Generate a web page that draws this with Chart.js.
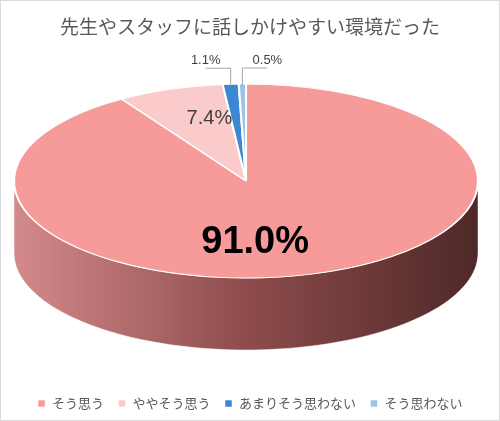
<!DOCTYPE html><html><head><meta charset="utf-8">
<script src="https://cdn.jsdelivr.net/npm/chart.js@4"></script>
<style>html,body{margin:0;padding:0;background:#fff}#w{width:498px;height:419px;border:1px solid #d9d9d9}</style>
</head><body><div id="w"><canvas id="c" width="498" height="419"></canvas></div>
<script>
const categories=['そう思う','ややそう思う','あまりそう思わない','そう思わない'];
const values=[91.0,7.4,1.1,0.5];
const colors=['#f79a9a','#fbcaca','#3b87d2','#9dc3e6'];
const chartTitle='先生やスタッフに話しかけやすい環境だった';
const E={x:245,y:180,rx:232,ry:97,d:72};
let ctxSaved=false;
const pie3d={id:'pie3d',
 beforeDatasetsDraw(ch){const c=ch.ctx;const arcs=ch.getDatasetMeta(0).data;if(!arcs.length)return;
  const a0=arcs[0];const cx=a0.x,cy=a0.y,r=a0.outerRadius;
  // side wall
  arcs.forEach((a,i)=>{let s=Math.max(a.startAngle,0),e=Math.min(a.endAngle,Math.PI);
   const ranges=[[s,e]];
   // handle wraps beyond 2π
   let s2=Math.max(a.startAngle,2*Math.PI),e2=Math.min(a.endAngle,3*Math.PI);ranges.push([s2,e2]);
   ranges.forEach(([p,q])=>{if(q<=p)return;
    const g=c.createLinearGradient(E.x-E.rx,0,E.x+E.rx,0);
    g.addColorStop(0,i==0?'#d48a8a':'#ccc');g.addColorStop(0.5,i==0?'#8e4c4c':'#999');g.addColorStop(1,i==0?'#4e2828':'#555');
    c.beginPath();const N=80;
    for(let k=0;k<=N;k++){const t=p+(q-p)*k/N;const X=E.x+E.rx*Math.cos(t),Y=E.y+E.ry*Math.sin(t);k?c.lineTo(X,Y):c.moveTo(X,Y);}
    for(let k=N;k>=0;k--){const t=p+(q-p)*k/N;c.lineTo(E.x+E.rx*Math.cos(t),E.y+E.ry*Math.sin(t)+E.d);}
    c.closePath();c.fillStyle=g;c.fill();c.strokeStyle='rgba(255,255,255,0.5)';c.lineWidth=1;c.stroke();});
  });
  c.save();c.translate(E.x,E.y);c.scale(E.rx/r,E.ry/r);c.translate(-cx,-cy);ctxSaved=true;},
 afterDatasetsDraw(ch){if(ctxSaved){ch.ctx.restore();ctxSaved=false;}
  const c=ch.ctx;const arcs=ch.getDatasetMeta(0).data;
  const conf=[{f:0.45,dx:-20,dy:20,size:38,bold:true},{f:0.72,dx:18,dy:3,size:20},{f:1.0,dx:-25,dy:-24,size:13,line:true},{f:1.0,dx:25,dy:-24,size:13,line:true}];
  arcs.forEach((a,i)=>{const m=(a.startAngle+a.endAngle)/2,k=conf[i];
   const px=E.x+E.rx*k.f*Math.cos(m),py=E.y+E.ry*k.f*Math.sin(m);
   const lx=px+k.dx,ly=py+k.dy;
   if(k.line){c.beginPath();c.moveTo(px,py+2);c.lineTo(px,ly+8);c.lineTo(lx,ly+8);c.strokeStyle='#a6a6a6';c.lineWidth=1;c.stroke();}
   c.font=(k.bold?'bold ':'')+k.size+'px "Liberation Sans",Arial,sans-serif';c.fillStyle=k.bold?'#000':'#404040';
   c.textAlign='center';c.textBaseline='middle';c.fillText(values[i].toFixed(1)+'%',lx,ly);});
 }};
new Chart(document.getElementById('c'),{type:'pie',
 data:{labels:categories,datasets:[{data:values,backgroundColor:colors,borderColor:'#fff',borderWidth:1.5}]},
 options:{responsive:false,animation:false,events:[],
  plugins:{title:{display:true,text:chartTitle,color:'#595959',font:{size:19,family:'"Noto Sans CJK JP",sans-serif',weight:'normal'},padding:{top:14,bottom:10}},
   legend:{position:'bottom',labels:{usePointStyle:true,pointStyle:'rect',boxWidth:8,boxHeight:8,color:'#595959',font:{size:13,family:'"Noto Sans CJK JP",sans-serif'},padding:14}},
   tooltip:{enabled:false}}},
 plugins:[pie3d]});
</script></body></html>
